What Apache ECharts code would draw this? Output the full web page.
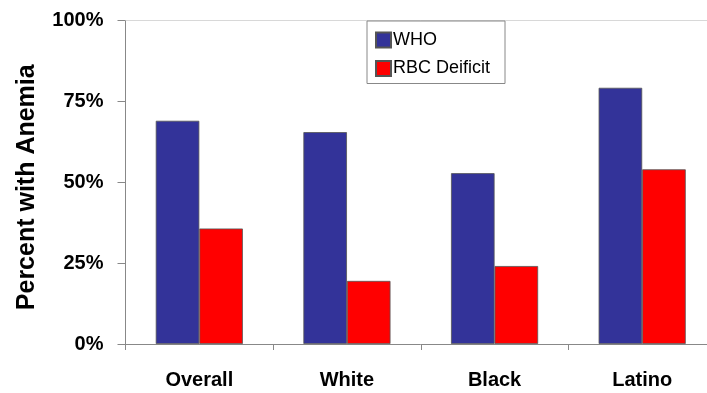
<!DOCTYPE html>
<html>
<head>
<meta charset="utf-8">
<script src="https://cdn.jsdelivr.net/npm/echarts@6/dist/echarts.min.js"></script>
<style>
html,body{margin:0;padding:0;background:#fff;overflow:hidden;}
#chart{width:716px;height:393px;}
</style>
</head>
<body>
<div id="chart"></div>
<script>
var categories = ['Overall', 'White', 'Black', 'Latino'];
var whoValues = [69.0, 65.5, 52.8, 79.2];
var rbcValues = [35.7, 19.5, 24.1, 54.0];
var seriesNames = ['WHO', 'RBC Deificit'];
var yTicks = [0, 25, 50, 75, 100];

var FONT = '"Liberation Sans", Arial, sans-serif';
var chart = echarts.init(document.getElementById('chart'), null, {renderer: 'canvas'});
chart.setOption({
  animation: false,
  backgroundColor: '#ffffff',
  grid: {left: 125.5, top: 20.5, right: 0, bottom: 49, containLabel: false},
  legend: {
    data: seriesNames,
    orient: 'vertical',
    left: 367, top: 21,
    icon: 'rect',
    itemWidth: 15, itemHeight: 15, itemGap: 10.5,
    padding: [10, 15, 6, 8],
    borderColor: '#888', borderWidth: 1,
    textStyle: {fontFamily: FONT, fontSize: 18, color: '#000', padding: [0, 0, 0, -3]}
  },
  xAxis: [{
    type: 'category',
    data: categories,
    axisLine: {lineStyle: {color: '#888', width: 1}},
    axisTick: {show: true, interval: 0, length: 6, lineStyle: {color: '#888'}},
    axisLabel: {fontFamily: FONT, fontSize: 20, fontWeight: 'bold', color: '#000', margin: 26, interval: 0}
  }, {
    type: 'category',
    data: categories,
    position: 'top',
    axisLine: {lineStyle: {color: '#d8d8d8', width: 1}},
    axisTick: {show: false},
    axisLabel: {show: false}
  }],
  yAxis: {
    type: 'value',
    min: yTicks[0], max: yTicks[yTicks.length - 1], interval: 25,
    name: 'Percent with Anemia',
    nameLocation: 'middle',
    nameRotate: 90,
    nameGap: 86,
    nameTextStyle: {fontFamily: FONT, fontSize: 25, fontWeight: 'bold', color: '#000', padding: [0, 10, 0, 0]},
    axisLine: {show: true, lineStyle: {color: '#888', width: 1}},
    axisTick: {show: true, length: 8, lineStyle: {color: '#888'}},
    splitLine: {show: false},
    axisLabel: {fontFamily: FONT, fontSize: 20, fontWeight: 'bold', color: '#000', margin: 22, formatter: '{value}%'}
  },
  series: [{
    name: seriesNames[0],
    type: 'bar',
    data: whoValues,
    barGap: '0%',
    barCategoryGap: '41%',
    itemStyle: {color: '#333399', borderColor: '#555', borderWidth: 0.8}
  }, {
    name: seriesNames[1],
    type: 'bar',
    data: rbcValues,
    itemStyle: {color: '#ff0000', borderColor: '#555', borderWidth: 0.8}
  }]
});
</script>
</body>
</html>
